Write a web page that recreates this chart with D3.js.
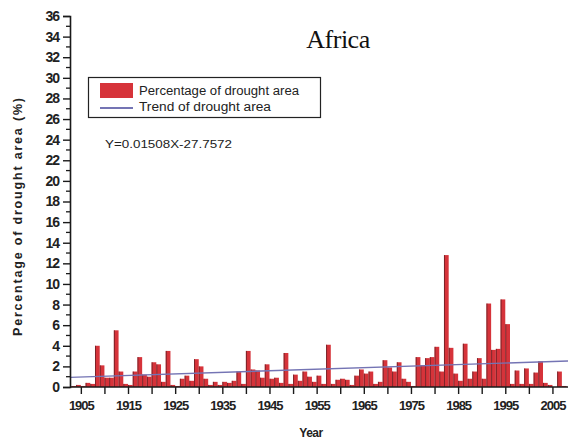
<!DOCTYPE html>
<html>
<head>
<meta charset="utf-8">
<script src="https://cdn.jsdelivr.net/npm/d3@7"></script>
<style>
  html, body { margin: 0; padding: 0; background: #fff; }
  svg { display: block; }
  text { font-family: "Liberation Sans", Arial, sans-serif; }
</style>
</head>
<body>
<svg id="chart" width="568" height="441"></svg>
<script>
// Annual percentage of drought area, Africa
const years = d3.range(1903, 2008);
const droughtPct = [
  0.1, 0.2, 0.1, 0.4, 0.3, 4.0, 2.1, 0.9, 0.9, 5.5,   // 1903-1912
  1.5, 0.3, 0.2, 1.5, 2.9, 1.2, 1.0, 2.4, 2.2, 0.5,   // 1913-1922
  3.5, 0.2, 0.1, 0.8, 1.1, 0.6, 2.7, 2.0, 0.8, 0.2,   // 1923-1932
  0.5, 0.2, 0.5, 0.4, 0.6, 1.5, 0.3, 3.5, 1.7, 1.6,   // 1933-1942
  0.9, 2.2, 0.8, 0.9, 0.4, 3.3, 0.3, 1.2, 0.6, 1.5,   // 1943-1952
  1.0, 0.5, 1.1, 0.3, 4.1, 0.3, 0.7, 0.8, 0.7, 0.2,   // 1953-1962
  1.1, 1.7, 1.3, 1.5, 0.3, 0.5, 2.6, 1.9, 1.5, 2.4,   // 1963-1972
  0.8, 0.5, 0.1, 2.9, 2.1, 2.8, 2.9, 3.9, 1.5, 12.8,  // 1973-1982
  3.8, 1.3, 0.6, 4.2, 0.8, 1.5, 2.8, 0.8, 8.1, 3.6,   // 1983-1992
  3.7, 8.5, 6.1, 0.3, 1.6, 0.3, 1.8, 0.3, 1.4, 2.5,   // 1993-2002
  0.4, 0.2, 0.0, 1.5, 0.1                             // 2003-2007
];

// Linear trend: Y = slope * X + intercept
const trendSlope = 0.01508;
const trendIntercept = -27.7572;

const yTicks = d3.range(0, 37, 2);
const yMinorTicks = d3.range(1, 36, 2);
const xTicks = d3.range(1905, 2006, 5);
const xLabels = d3.range(1905, 2006, 10);

const svg = d3.select("#chart");

const x = d3.scaleLinear().domain([1902.7, 2008.3]).range([70, 568]);
const y = d3.scaleLinear().domain([0, 36]).range([387, 16]);

const barColor = "#d6333a";
const edgeColor = "#5c1e22";
const trendColor = "#7474b4";
const axisColor = "#1a1a1a";
const textColor = "#222";

// Bars
const rows = years.map((yr, i) => ({ yr, v: droughtPct[i] }));
const bars = svg.append("g");
const bw = x(1906) - x(1905);
bars.selectAll("rect")
  .data(rows)
  .join("rect")
  .attr("x", d => x(d.yr))
  .attr("y", d => y(d.v))
  .attr("width", bw)
  .attr("height", d => y(0) - y(d.v))
  .attr("fill", barColor);
bars.selectAll("line")
  .data(rows.filter(d => d.v > 0.15))
  .join("line")
  .attr("x1", d => x(d.yr) + 0.5)
  .attr("x2", d => x(d.yr) + 0.5)
  .attr("y1", d => y(d.v))
  .attr("y2", y(0))
  .attr("stroke", edgeColor)
  .attr("stroke-width", 1)
  .attr("stroke-opacity", 0.75);

// Trend line
const [x0, x1] = x.domain();
svg.append("line")
  .attr("x1", x(x0)).attr("y1", y(trendSlope * x0 + trendIntercept))
  .attr("x2", x(x1)).attr("y2", y(trendSlope * x1 + trendIntercept))
  .attr("stroke", trendColor)
  .attr("stroke-width", 1.4);

// Y axis
const yAxis = svg.append("g").attr("transform", `translate(${x(x0)},0)`)
  .call(d3.axisLeft(y).tickValues(yTicks).tickSize(7).tickPadding(4).tickFormat(d3.format("d")));
yAxis.select(".domain").attr("stroke", axisColor).attr("stroke-width", 1.6);
yAxis.selectAll(".tick line").attr("stroke", axisColor).attr("stroke-width", 1.4);
yAxis.selectAll(".tick text")
  .attr("font-size", 14).attr("fill", textColor).attr("font-weight", "bold")
  .attr("letter-spacing", -1);
svg.append("g").selectAll("line")
  .data(yMinorTicks).join("line")
  .attr("x1", x(x0) - 4).attr("x2", x(x0))
  .attr("y1", d => y(d)).attr("y2", d => y(d))
  .attr("stroke", axisColor).attr("stroke-width", 1.3);

// X axis
const xAxis = svg.append("g").attr("transform", `translate(0,${y(0)})`)
  .call(d3.axisBottom(x).tickValues(xTicks).tickSize(7).tickPadding(7)
    .tickFormat(d => xLabels.includes(d) ? String(d) : ""));
xAxis.select(".domain").attr("stroke", axisColor).attr("stroke-width", 1.6)
  .attr("d", `M${x(x0)},0H568`);
xAxis.selectAll(".tick line").attr("stroke", axisColor).attr("stroke-width", 1.4);
xAxis.selectAll(".tick text")
  .attr("font-size", 13).attr("fill", textColor).attr("font-weight", "bold")
  .attr("letter-spacing", -1);

// Axis titles
svg.append("text")
  .attr("x", 311).attr("y", 437)
  .attr("text-anchor", "middle")
  .attr("font-size", 12).attr("font-weight", "bold").attr("fill", textColor)
  .attr("letter-spacing", -0.5)
  .text("Year");
svg.append("text")
  .attr("transform", "translate(22,217) rotate(-90)")
  .attr("text-anchor", "middle")
  .attr("font-size", 12.5).attr("font-weight", "bold").attr("fill", textColor)
  .attr("textLength", 238).attr("lengthAdjust", "spacing")
  .text("Percentage of drought area (%)");

// Title
svg.append("text")
  .attr("x", 338).attr("y", 48)
  .attr("text-anchor", "middle")
  .style("font-family", '"Liberation Serif", "Times New Roman", serif')
  .attr("font-size", 26).attr("fill", "#111")
  .attr("letter-spacing", -0.5)
  .text("Africa");

// Legend
const lg = svg.append("g");
lg.append("rect")
  .attr("x", 88.5).attr("y", 77.5).attr("width", 232).attr("height", 40)
  .attr("fill", "#fff").attr("stroke", "#222").attr("stroke-width", 1.2);
lg.append("rect")
  .attr("x", 100).attr("y", 83).attr("width", 33).attr("height", 15)
  .attr("fill", barColor);
lg.append("line")
  .attr("x1", 100).attr("x2", 133).attr("y1", 108).attr("y2", 108)
  .attr("stroke", trendColor).attr("stroke-width", 2);
lg.append("text")
  .attr("x", 139).attr("y", 95)
  .attr("font-size", 12).attr("fill", textColor)
  .attr("textLength", 160).attr("lengthAdjust", "spacingAndGlyphs")
  .text("Percentage of drought area");
lg.append("text")
  .attr("x", 139).attr("y", 111)
  .attr("font-size", 12).attr("fill", textColor)
  .attr("textLength", 132).attr("lengthAdjust", "spacingAndGlyphs")
  .text("Trend of drought area");

// Regression equation
svg.append("text")
  .attr("x", 105).attr("y", 148)
  .attr("font-size", 10.5).attr("fill", textColor)
  .attr("textLength", 127).attr("lengthAdjust", "spacingAndGlyphs")
  .text(`Y=${trendSlope}X${trendIntercept}`);
</script>
</body>
</html>
